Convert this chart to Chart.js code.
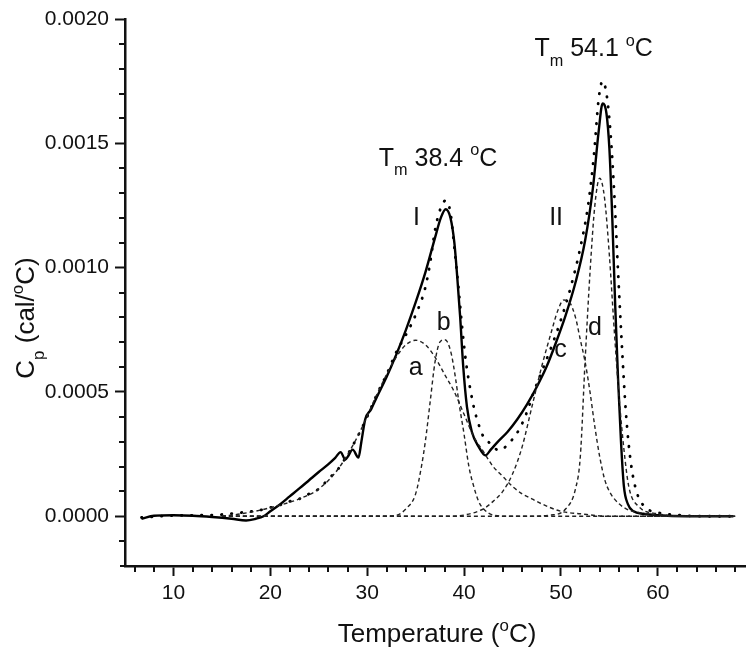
<!DOCTYPE html>
<html>
<head>
<meta charset="utf-8">
<script src="https://cdn.jsdelivr.net/npm/chart.js@4.4.1/dist/chart.umd.min.js"></script>
<style>
  html, body { margin: 0; padding: 0; background: #fff; }
  canvas { display: block; }
</style>
</head>
<body>
<canvas id="dsc" width="750" height="656"></canvas>
<script>
// experimental Cp curve (solid)
const expTemp = [6.7, 8, 10, 12, 14, 16, 17.5, 18.5, 19.3, 20, 21, 22, 23, 24, 25, 26, 26.7, 27.25, 27.75, 28.0, 28.5, 29.1, 29.4, 29.8, 30.4, 31, 32, 33, 34, 35, 36, 37, 37.6, 38.1, 38.6, 39.0, 39.3, 39.6, 39.9, 40.3, 40.8, 41.5, 42.2, 42.8, 43.5, 44.5, 45.5, 46.5, 47.5, 48.5, 49.5, 50.5, 51.5, 52.5, 53.3, 53.9, 54.3, 54.7, 55.0, 55.3, 55.6, 55.9, 56.2, 56.5, 56.9, 57.5, 58.5, 60, 63, 67.8];
const expCp = [-0.00001, 0.000002, 0.000004, 0.000002, -0.000003, -0.00001, -0.000017, -0.00001, 0.0, 0.00002, 0.000048, 0.00008, 0.000112, 0.000145, 0.000178, 0.00021, 0.000235, 0.000258, 0.000228, 0.00024, 0.000268, 0.000236, 0.0003, 0.00039, 0.00043, 0.00048, 0.00056, 0.00065, 0.00075, 0.00086, 0.00098, 0.00112, 0.0012, 0.001235, 0.0012, 0.0011, 0.00096, 0.0008, 0.00061, 0.00044, 0.00034, 0.00028, 0.000245, 0.00027, 0.0003, 0.00034, 0.00039, 0.00045, 0.00052, 0.0006, 0.0007, 0.00081, 0.00094, 0.00111, 0.00132, 0.00155, 0.00166, 0.00162, 0.00148, 0.0012, 0.00085, 0.00055, 0.0003, 0.00012, 0.00005, 0.00002, 0.00001, 0.000004, 0.0, 0.0];

// fitted sum (dotted)
const fitTemp = [6.7, 10, 14, 17, 19, 20, 21, 22, 23, 24, 25, 26, 27, 28, 29, 30, 31, 32, 33, 34, 35, 36, 36.5, 37, 37.5, 38.1, 38.6, 39, 39.4, 39.8, 40.2, 40.6, 41, 41.5, 42, 42.5, 43, 43.6, 44.3, 45, 45.7, 46.4, 47.2, 48, 49, 50, 51, 52, 52.8, 53.4, 53.9, 54.3, 54.7, 55.1, 55.5, 55.9, 56.3, 56.7, 57.2, 57.8, 58.6, 60, 62, 65, 67.8];
const fitCp = [-0.000005, 0.000003, 0.000005, 0.000015, 0.000025, 0.000035, 0.000045, 0.00006, 0.00007, 0.00009, 0.00011, 0.00015, 0.00019, 0.00025, 0.00032, 0.0004, 0.00049, 0.00057, 0.00066, 0.00073, 0.00081, 0.00092, 0.00102, 0.00115, 0.00123, 0.00127, 0.00122, 0.00108, 0.00093, 0.00076, 0.00062, 0.00052, 0.00044, 0.00037, 0.00032, 0.0003, 0.00028, 0.000265, 0.00028, 0.00031, 0.00035, 0.00041, 0.0005, 0.00058, 0.00068, 0.00079, 0.00092, 0.00108, 0.00125, 0.00145, 0.00168, 0.00175, 0.0017, 0.00155, 0.0013, 0.00098, 0.00068, 0.00042, 0.00022, 0.0001, 0.00004, 0.000015, 0.000005, 0.0, 0.0];

// deconvoluted components (dashed)
const aTemp = [15, 17, 19, 21, 23, 25, 27, 29, 31, 32, 33, 34, 35, 36, 37, 38, 39, 40, 41, 42, 43, 44, 45, 46, 47, 48, 50, 52, 55, 68];
const aCp = [0.0, 0.00001, 0.000025, 0.000045, 0.00007, 0.00011, 0.00019, 0.00032, 0.00049, 0.00057, 0.00064, 0.00069, 0.000708, 0.00069, 0.00064, 0.00057, 0.0005, 0.00041, 0.00032, 0.00026, 0.0002, 0.00016, 0.00012, 0.00009, 0.00007, 0.00005, 0.00002, 0.00001, 0.0, 0.0];

const bTemp = [15, 31, 33, 34, 35, 35.6, 36, 36.5, 37, 37.5, 38, 38.3, 38.7, 39.1, 39.5, 40, 40.5, 41, 41.5, 42, 43, 45, 68];
const bCp = [0.0, 0.0, 0.000004, 0.00003, 0.00009, 0.0002, 0.0003, 0.00046, 0.00062, 0.0007, 0.00071, 0.0007, 0.00065, 0.00056, 0.00045, 0.00033, 0.0002, 0.00012, 0.00006, 0.00003, 0.000005, 0.0, 0.0];

const cTemp = [15, 38, 40, 42, 43, 44, 45, 46, 47, 48, 49, 49.7, 50.3, 50.9, 51.5, 52, 52.5, 53, 53.5, 54, 54.5, 55, 56, 57, 58, 60, 63, 68];
const cCp = [0.0, 0.0, 0.000005, 0.00003, 0.00006, 0.0001, 0.00017, 0.00028, 0.00044, 0.0006, 0.00074, 0.00083, 0.00087, 0.00086, 0.0008, 0.00071, 0.00062, 0.0005, 0.00036, 0.00024, 0.00015, 0.0001, 0.00005, 0.000025, 0.000015, 0.000005, 0.0, 0.0];

const dTemp = [15, 46, 49, 50.5, 51.5, 52, 52.5, 53, 53.5, 54, 54.5, 55, 55.5, 56, 56.5, 57, 58, 60, 63, 68];
const dCp = [0.0, 0.0, 0.000005, 0.00003, 0.00011, 0.00024, 0.00063, 0.00098, 0.00125, 0.00136, 0.00128, 0.00105, 0.00075, 0.00048, 0.00027, 0.00012, 0.00004, 0.00001, 0.0, 0.0];

// axis ticks
const xTickLabels = [10, 20, 30, 40, 50, 60];
const yTickLabels = [0.0000, 0.0005, 0.0010, 0.0015, 0.0020];

const FONT = "'Liberation Sans', Arial, Helvetica, sans-serif";
const INK = "#111";

function pts(xs, ys) {
  return xs.map((x, i) => ({ x: x, y: ys[i] }));
}

// text labels on the plot, placed in data units
const notes = [
  { x: 31.2, y: 0.00141, align: "left", parts: [["T"], ["m", "sub"], [" 38.4 "], ["o", "sup"], ["C"]] },
  { x: 47.26, y: 0.00185, align: "left", parts: [["T"], ["m", "sub"], [" 54.1 "], ["o", "sup"], ["C"]] },
  { x: 35.1, y: 0.00117, align: "center", parts: [["I"]] },
  { x: 49.5, y: 0.00117, align: "center", parts: [["II"]] },
  { x: 35.0, y: 0.00057, align: "center", parts: [["a"]] },
  { x: 37.9, y: 0.00075, align: "center", parts: [["b"]] },
  { x: 49.95, y: 0.00064, align: "center", parts: [["c"]] },
  { x: 53.5, y: 0.00073, align: "center", parts: [["d"]] }
];

function richWidth(ctx, parts, size) {
  let w = 0;
  parts.forEach(p => {
    ctx.font = (p[1] ? size * 0.65 : size) + "px " + FONT;
    w += ctx.measureText(p[0]).width;
  });
  return w;
}

function drawRich(ctx, parts, x, y, size, align) {
  const w = richWidth(ctx, parts, size);
  let cx = align === "center" ? x - w / 2 : x;
  ctx.textAlign = "left";
  ctx.textBaseline = "alphabetic";
  ctx.fillStyle = INK;
  parts.forEach(p => {
    const small = !!p[1];
    ctx.font = (small ? size * 0.65 : size) + "px " + FONT;
    let dy = 0;
    if (p[1] === "sub") dy = size * 0.38;
    if (p[1] === "sup") dy = -size * 0.42;
    ctx.fillText(p[0], cx, y + dy);
    cx += ctx.measureText(p[0]).width;
  });
}

const extras = {
  id: "extras",
  afterDraw(chart) {
    const ctx = chart.ctx;
    const xs = chart.scales.x, ys = chart.scales.y;
    const area = chart.chartArea;
    ctx.save();

    // minor ticks
    ctx.strokeStyle = INK;
    ctx.lineWidth = 2;
    ctx.beginPath();
    for (let t = 6; t <= 68; t += 2) {
      if (t % 10 === 0) continue;
      const px = Math.round(xs.getPixelForValue(t));
      ctx.moveTo(px, area.bottom);
      ctx.lineTo(px, area.bottom + 6);
    }
    for (let k = -1; k <= 19; k++) {
      if (k % 5 === 0) continue;
      const py = Math.round(ys.getPixelForValue(k * 0.0001));
      ctx.moveTo(area.left, py);
      ctx.lineTo(area.left - 6, py);
    }
    // x axis line runs a little past the y axis
    ctx.moveTo(area.left - 5, area.bottom);
    ctx.lineTo(area.left, area.bottom);
    ctx.stroke();

    // annotations
    notes.forEach(n => {
      drawRich(ctx, n.parts, xs.getPixelForValue(n.x), ys.getPixelForValue(n.y), 25, n.align);
    });

    // axis titles
    drawRich(ctx, [["Temperature ("], ["o", "sup"], ["C)"]], 437, 642, 26, "center");

    ctx.translate(34, 318);
    ctx.rotate(-Math.PI / 2);
    drawRich(ctx, [["C"], ["p", "sub"], [" (cal/"], ["o", "sup"], ["C)"]], 0, 0, 26, "center");
    ctx.restore();
  }
};

const dashed = { borderColor: "#222", borderWidth: 1.4, borderDash: [4, 3], pointRadius: 0, fill: false, cubicInterpolationMode: "monotone" };

new Chart(document.getElementById("dsc"), {
  type: "line",
  data: {
    datasets: [
      Object.assign({ label: "a", data: pts(aTemp, aCp) }, dashed),
      Object.assign({ label: "b", data: pts(bTemp, bCp) }, dashed),
      Object.assign({ label: "c", data: pts(cTemp, cCp) }, dashed),
      Object.assign({ label: "d", data: pts(dTemp, dCp) }, dashed),
      {
        label: "fit",
        data: pts(fitTemp, fitCp),
        borderColor: "#000",
        borderWidth: 2.8,
        borderDash: [0.5, 9.5],
        borderCapStyle: "round",
        pointRadius: 0,
        fill: false,
        cubicInterpolationMode: "monotone"
      },
      {
        label: "experimental",
        data: pts(expTemp, expCp),
        borderColor: "#000",
        borderWidth: 2.4,
        pointRadius: 0,
        fill: false,
        cubicInterpolationMode: "monotone"
      }
    ]
  },
  options: {
    responsive: false,
    animation: false,
    layout: { padding: { top: 19, right: 5, bottom: 0, left: 0 } },
    plugins: { legend: { display: false }, tooltip: { enabled: false } },
    scales: {
      x: {
        type: "linear",
        min: 5,
        max: 69,
        afterBuildTicks: s => { s.ticks = xTickLabels.map(v => ({ value: v })); },
        afterFit: s => { s.height = 90; },
        ticks: {
          font: { family: FONT, size: 21 },
          color: INK,
          padding: 5,
          maxRotation: 0,
          autoSkip: false,
          callback: v => String(v)
        },
        grid: { drawOnChartArea: false, drawTicks: true, tickLength: 10, tickWidth: 2, tickColor: INK },
        border: { display: true, color: INK, width: 2.5 }
      },
      y: {
        type: "linear",
        min: -0.0002,
        max: 0.0020,
        afterBuildTicks: s => { s.ticks = yTickLabels.map(v => ({ value: v })); },
        afterFit: s => { s.width = 125; },
        ticks: {
          font: { family: FONT, size: 21 },
          color: INK,
          padding: 6,
          autoSkip: false,
          callback: v => Number(v).toFixed(4)
        },
        grid: { drawOnChartArea: false, drawTicks: true, tickLength: 10, tickWidth: 2, tickColor: INK },
        border: { display: true, color: INK, width: 2.5 }
      }
    }
  },
  plugins: [extras]
});
</script>
</body>
</html>
